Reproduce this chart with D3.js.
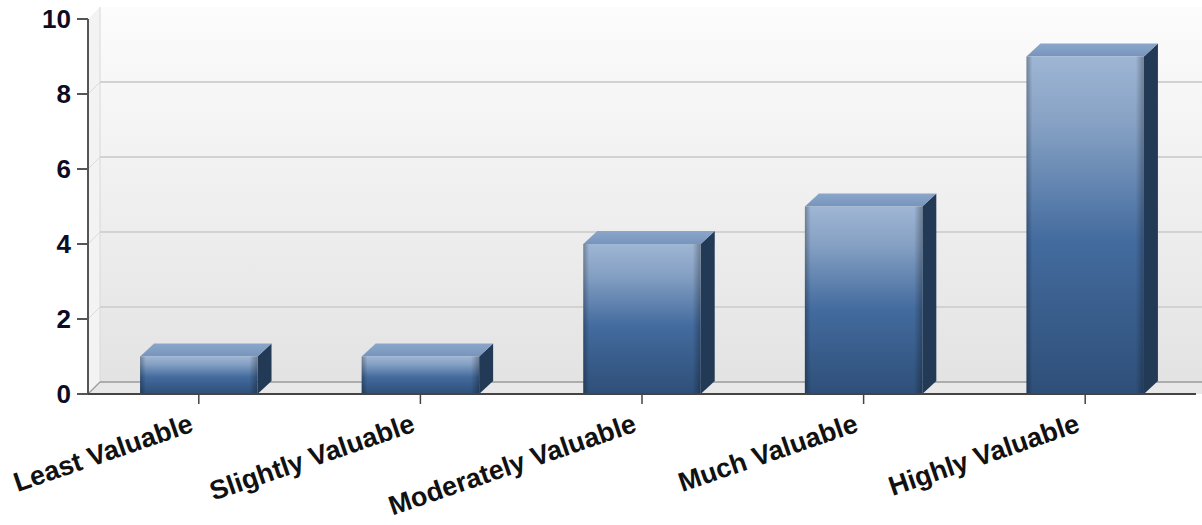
<!DOCTYPE html>
<html>
<head>
<meta charset="utf-8">
<script src="https://cdn.jsdelivr.net/npm/d3@7"></script>
<style>
  html, body { margin: 0; padding: 0; background: #ffffff; }
  svg { display: block; }
  text { font-family: "Liberation Sans", Arial, sans-serif; font-weight: bold; }
</style>
</head>
<body>
<svg id="chart" width="1202" height="525"></svg>
<script>
// Chart data
const categories = ["Least Valuable", "Slightly Valuable", "Moderately Valuable", "Much Valuable", "Highly Valuable"];
const values = [1, 1, 4, 5, 9];
const yTicks = [0, 2, 4, 6, 8, 10];

const W = 1202, H = 525;
const plotLeft = 88, plotRight = 1196, plotTop = 19, plotBottom = 394;
const wallDx = 12, wallDy = -12;   // depth of back wall
const barDx = 14, barDy = -13;     // depth of each bar

const svg = d3.select("#chart");
const defs = svg.append("defs");

// Wall gradient
const wallGrad = defs.append("linearGradient").attr("id", "wallGrad")
  .attr("x1", 0).attr("y1", 0).attr("x2", 0).attr("y2", 1);
wallGrad.append("stop").attr("offset", "0%").attr("stop-color", "#fcfcfc");
wallGrad.append("stop").attr("offset", "100%").attr("stop-color", "#e3e3e3");

// Bar front gradient (vertical)
const frontGrad = defs.append("linearGradient").attr("id", "frontGrad")
  .attr("x1", 0).attr("y1", 0).attr("x2", 0).attr("y2", 1);
frontGrad.append("stop").attr("offset", "0%").attr("stop-color", "#9fb6d4");
frontGrad.append("stop").attr("offset", "20%").attr("stop-color", "#86a1c4");
frontGrad.append("stop").attr("offset", "55%").attr("stop-color", "#436b9e");
frontGrad.append("stop").attr("offset", "100%").attr("stop-color", "#2e4f78");

// Edge shading across the front face
const bevelGrad = defs.append("linearGradient").attr("id", "bevelGrad")
  .attr("x1", 0).attr("y1", 0).attr("x2", 1).attr("y2", 0);
bevelGrad.append("stop").attr("offset", "0%").attr("stop-color", "#000").attr("stop-opacity", 0.28);
bevelGrad.append("stop").attr("offset", "5%").attr("stop-color", "#000").attr("stop-opacity", 0);
bevelGrad.append("stop").attr("offset", "93%").attr("stop-color", "#000").attr("stop-opacity", 0);
bevelGrad.append("stop").attr("offset", "100%").attr("stop-color", "#000").attr("stop-opacity", 0.3);

// Top face gradient
const topGrad = defs.append("linearGradient").attr("id", "topGrad")
  .attr("x1", 0).attr("y1", 0).attr("x2", 0).attr("y2", 1);
topGrad.append("stop").attr("offset", "0%").attr("stop-color", "#8aa6ca");
topGrad.append("stop").attr("offset", "100%").attr("stop-color", "#7794bc");

// Scales
const x = d3.scaleBand().domain(categories).range([plotLeft, plotRight])
  .paddingInner(0.47).paddingOuter(0.235);
const y = d3.scaleLinear().domain([0, 10]).range([plotBottom, plotTop]);

// Back wall
svg.append("rect")
  .attr("x", plotLeft + wallDx).attr("y", y(10) + wallDy)
  .attr("width", W - (plotLeft + wallDx)).attr("height", y(0) - y(10))
  .attr("fill", "url(#wallGrad)");

// Left side wall
svg.append("path")
  .attr("d", `M${plotLeft},${y(10)} L${plotLeft + wallDx},${y(10) + wallDy} L${plotLeft + wallDx},${y(0) + wallDy} L${plotLeft},${y(0)} Z`)
  .attr("fill", "#f3f3f3");
svg.append("line")
  .attr("x1", plotLeft + wallDx).attr("x2", plotLeft + wallDx)
  .attr("y1", y(10) + wallDy).attr("y2", y(0) + wallDy)
  .attr("stroke", "#d8d8d8").attr("stroke-width", 1);

// Floor
svg.append("path")
  .attr("d", `M${plotLeft},${y(0)} L${plotLeft + wallDx},${y(0) + wallDy} L${W},${y(0) + wallDy} L${W},${y(0)} Z`)
  .attr("fill", "#e8e8e8");

// Gridlines on the back wall plus diagonals on the side wall
const grid = svg.append("g");
yTicks.filter(v => v > 0 && v < 10).forEach(v => {
  grid.append("line")
    .attr("x1", plotLeft + wallDx).attr("x2", W)
    .attr("y1", y(v) + wallDy).attr("y2", y(v) + wallDy)
    .attr("stroke", "#d2d2d2").attr("stroke-width", 2);
  grid.append("line")
    .attr("x1", plotLeft).attr("x2", plotLeft + wallDx)
    .attr("y1", y(v)).attr("y2", y(v) + wallDy)
    .attr("stroke", "#dadada").attr("stroke-width", 1);
});
// Back edge of the floor
grid.append("line")
  .attr("x1", plotLeft + wallDx).attr("x2", W)
  .attr("y1", y(0) + wallDy).attr("y2", y(0) + wallDy)
  .attr("stroke", "#9a9a9a").attr("stroke-width", 1.5);
grid.append("line")
  .attr("x1", plotLeft).attr("x2", plotLeft + wallDx)
  .attr("y1", y(0)).attr("y2", y(0) + wallDy)
  .attr("stroke", "#9a9a9a").attr("stroke-width", 1.2);

// Bars
const bars = svg.append("g").selectAll("g").data(categories).join("g");
bars.each(function (c, i) {
  const g = d3.select(this);
  const x0 = x(c), bw = x.bandwidth();
  const yt = y(values[i]), yb = y(0);
  // side face
  g.append("path")
    .attr("d", `M${x0 + bw},${yt} L${x0 + bw + barDx},${yt + barDy} L${x0 + bw + barDx},${yb + barDy} L${x0 + bw},${yb} Z`)
    .attr("fill", "#233a57");
  // top face
  g.append("path")
    .attr("d", `M${x0},${yt} L${x0 + barDx},${yt + barDy} L${x0 + bw + barDx},${yt + barDy} L${x0 + bw},${yt} Z`)
    .attr("fill", "url(#topGrad)");
  // front face
  g.append("rect")
    .attr("x", x0).attr("y", yt).attr("width", bw).attr("height", yb - yt)
    .attr("fill", "url(#frontGrad)");
  g.append("rect")
    .attr("x", x0).attr("y", yt).attr("width", bw).attr("height", yb - yt)
    .attr("fill", "url(#bevelGrad)");
});

// Y axis
const yAxis = svg.append("g");
yAxis.append("line")
  .attr("x1", plotLeft).attr("x2", plotLeft).attr("y1", y(10)).attr("y2", y(0))
  .attr("stroke", "#555").attr("stroke-width", 2);
yTicks.forEach(v => {
  yAxis.append("line")
    .attr("x1", plotLeft - 11).attr("x2", plotLeft).attr("y1", y(v)).attr("y2", y(v))
    .attr("stroke", "#555").attr("stroke-width", 2);
  yAxis.append("text")
    .attr("x", plotLeft - 17).attr("y", y(v))
    .attr("dy", "0.36em")
    .attr("text-anchor", "end")
    .attr("font-size", 26)
    .attr("fill", "#0c0c24")
    .text(v);
});

// X axis
const xAxis = svg.append("g");
xAxis.append("line")
  .attr("x1", plotLeft).attr("x2", plotRight).attr("y1", y(0)).attr("y2", y(0))
  .attr("stroke", "#444").attr("stroke-width", 2);
categories.forEach(c => {
  const cx = x(c) + x.bandwidth() / 2;
  xAxis.append("line")
    .attr("x1", cx).attr("x2", cx).attr("y1", y(0)).attr("y2", y(0) + 10)
    .attr("stroke", "#444").attr("stroke-width", 1.5);
  xAxis.append("text")
    .attr("transform", `translate(${cx - 4},${y(0) + 37}) rotate(-19)`)
    .attr("text-anchor", "end")
    .attr("font-size", 27)
    .attr("fill", "#111")
    .text(c);
});
</script>
</body>
</html>
